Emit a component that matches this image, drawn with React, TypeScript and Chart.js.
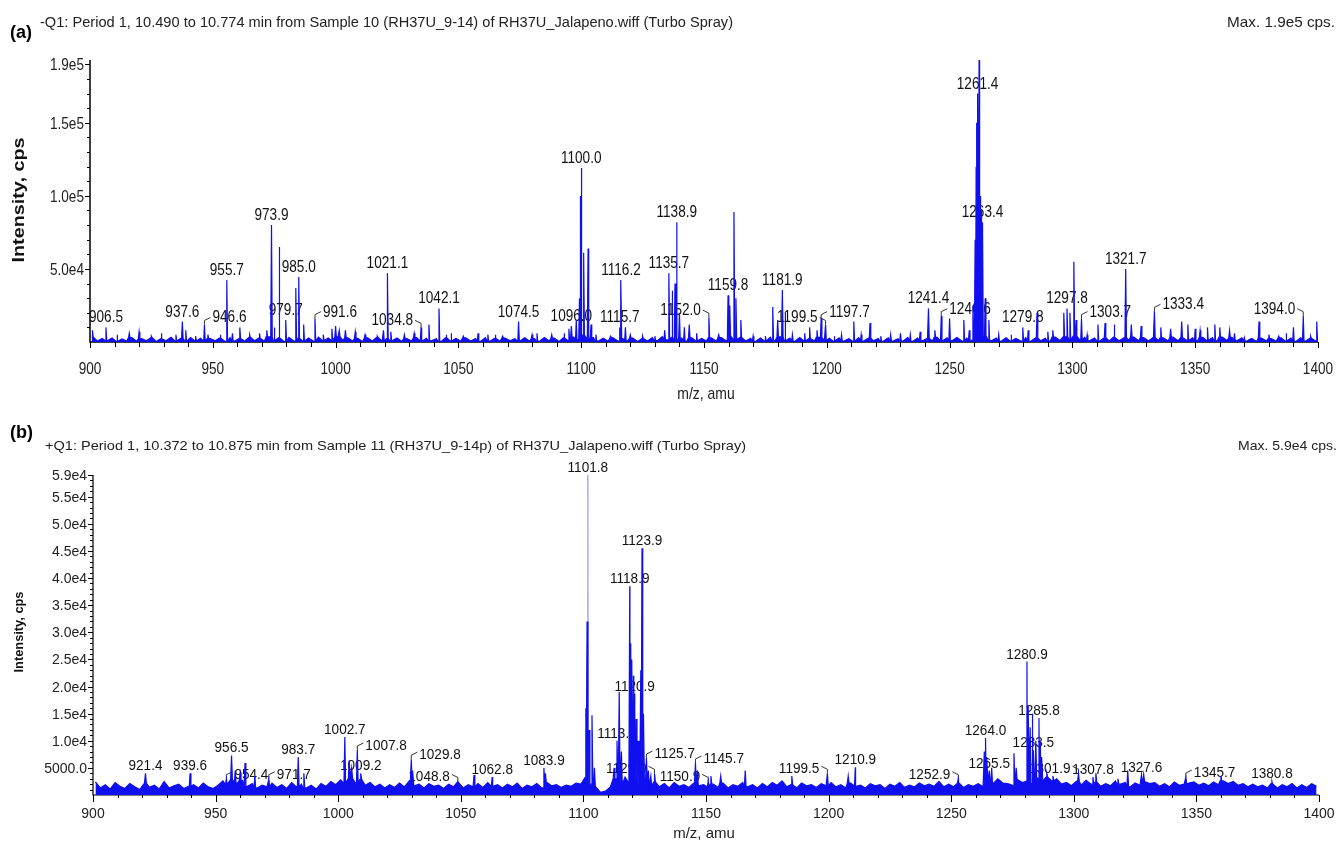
import React, { useEffect, useRef } from 'react';
import { Chart, registerables } from 'chart.js';
Chart.register(...registerables);

const FONT = '"Liberation Sans", Arial, sans-serif';

// ---------------- data ----------------
const xTickValues = [900, 950, 1000, 1050, 1100, 1150, 1200, 1250, 1300, 1350, 1400];
const xTickLabels = ['900', '950', '1000', '1050', '1100', '1150', '1200', '1250', '1300', '1350', '1400'];

const yTickValuesA = [50000, 100000, 150000, 190000];
const yTickLabelsA = ['5.0e4', '1.0e5', '1.5e5', '1.9e5'];
const yTickValuesB = [5000, 10000, 15000, 20000, 25000, 30000, 35000, 40000, 45000, 50000, 55000, 59000];
const yTickLabelsB = ['5000.0', '1.0e4', '1.5e4', '2.0e4', '2.5e4', '3.0e4', '3.5e4', '4.0e4', '4.5e4', '5.0e4', '5.5e4', '5.9e4'];

const titleA = '-Q1: Period 1, 10.490 to 10.774 min from Sample 10 (RH37U_9-14) of RH37U_Jalapeno.wiff (Turbo Spray)';
const titleB = '+Q1: Period 1, 10.372 to 10.875 min from Sample 11 (RH37U_9-14p) of RH37U_Jalapeno.wiff (Turbo Spray)';
const maxA = 'Max. 1.9e5 cps.';
const maxB = 'Max. 5.9e4 cps.';

// baseline noise, sampled every 2 amu from m/z 901
const noiseStart = 901;
const noiseStep = 2;
const noiseA = [
  3400, 600, 2500, 900, 2800, 400, 2100, 700, 3000, 500, 2400, 800, 2900, 300, 2200, 900, 3300, 600, 2500, 400, 3100, 700, 2600, 500, 2300,
  800, 2700, 400, 3000, 700, 2400, 500, 3200, 900, 2600, 600, 3500, 800, 2900, 400, 3100, 700, 2500, 600, 2800, 500, 3300, 900, 2700, 1200,
  3600, 1000, 2900, 600, 2500, 400, 2800, 700, 3100, 500, 2400, 800, 2700, 400, 2300, 600, 3000, 500, 2600, 800, 2200, 400, 2900, 700, 2500,
  500, 2800, 600, 2300, 400, 3000, 700, 2500, 500, 2700, 800, 2200, 400, 2900, 600, 2400, 500, 3100, 700, 2600, 400, 2800, 900, 3300, 1500,
  4800, 1800, 3000, 700, 2600, 500, 2900, 600, 2400, 800, 2700, 400, 2300, 700, 3000, 900, 3600, 1400, 3200, 800, 2600, 500, 2900, 700, 2400,
  600, 2800, 500, 3000, 900, 3800, 1600, 3100, 700, 2500, 400, 2800, 600, 3300, 1000, 3500, 800, 2700, 500, 3000, 700, 2400, 600, 3100, 800,
  2500, 500, 2800, 700, 2300, 400, 3000, 600, 2600, 800, 2400, 500, 2900, 700, 2200, 600, 3100, 500, 2700, 900, 2500, 700, 3200, 600, 2800,
  900, 3100, 700, 2600, 1200, 5200, 2400, 3800, 900, 2700, 500, 2900, 600, 2400, 700, 3100, 500, 2800, 800, 2500, 600, 3300, 1100, 3600, 1400,
  4000, 1500, 3200, 800, 2700, 600, 3000, 700, 3300, 900, 2900, 1100, 3400, 800, 3000, 700, 3200, 900, 2800, 600, 3300, 800, 3100, 1000, 2900,
  900, 3200, 1100, 3000, 800, 3400, 1000, 3100, 900, 2800, 600, 2500, 400, 2700, 700, 2400, 500, 2800, 600, 2600, 400, 2900, 700, 2500, 600,
];
const noiseB = [
  2400, 1300, 1900, 1100, 2300, 1600, 1200, 2100, 1500, 1000, 2200, 1400, 1800, 1100, 2500, 1300, 1700, 2000, 1200, 1600, 1900, 1300, 2200, 1500, 1200,
  1800, 2600, 1900, 2900, 2200, 2700, 1600, 2100, 1300, 1800, 1500, 2200, 1400, 1900, 1200, 2300, 1500, 2000, 1300, 1800, 1100, 2100, 1600, 2500, 1900,
  2800, 2100, 3100, 2200, 2900, 1800, 2300, 1500, 2000, 1300, 1900, 1400, 2200, 1500, 2600, 1700, 2000, 1300, 2100, 1600, 1800, 1200, 2000, 1500, 2300,
  1300, 1900, 1500, 2100, 1400, 2300, 1600, 1900, 1300, 2000, 1500, 2200, 1200, 1800, 1500, 2100, 1300, 2400, 1700, 1900, 1400, 1800, 1600, 2200, 2000,
  3200, 2000, 1600, 500, 700, 1500, 3000, 2000, 3300, 2100, 3000, 1900, 2800, 1600, 2400, 1500, 2100, 1300, 2300, 1600, 1900, 1400, 2200, 1700, 1900,
  1500, 2000, 1400, 2200, 1300, 1900, 1600, 2300, 1500, 1900, 1300, 2100, 1500, 2300, 1800, 2600, 1500, 1900, 1300, 2200, 1700, 1900, 1400, 2100, 1700,
  2300, 1500, 1900, 1300, 2200, 1600, 1800, 1300, 2100, 1700, 1900, 1200, 2000, 1600, 2300, 1400, 1800, 1500, 2200, 1700, 2000, 1600, 2500, 1500, 2000,
  1500, 2200, 1400, 1900, 1600, 2100, 1500, 2600, 2000, 3000, 2200, 2100, 1800, 2900, 2300, 2500, 2100, 3100, 2500, 3300, 2600, 3000, 2000, 2300, 1700,
  2500, 1800, 2700, 2000, 2400, 1600, 2100, 1700, 2600, 2000, 2300, 1500, 2200, 1800, 2500, 2100, 2300, 1600, 2100, 1500, 2400, 1800, 2000, 2200, 2400,
  1800, 2200, 1700, 2400, 1900, 2600, 2100, 2500, 1800, 2100, 1500, 2000, 1500, 1800, 1300, 2100, 1300, 1900, 1500, 2100, 1300, 1900, 1400, 2100, 1600,
];

// unlabeled peaks [m/z, intensity]
const peaksA: [number, number][] = [
  [901, 8000], [911, 5000], [916, 6000], [920, 7000], [925, 4000], [929, 6000], [935, 5000], [939, 8000], [943, 4000], [948, 5000],
  [953, 5000], [958, 6000], [961, 10000], [965, 5000], [969, 6000], [972, 8000], [975, 10000], [977, 65000], [983.8, 37000], [987, 12000],
  [995, 5000], [998.5, 9000], [1000, 11000], [1001.5, 8000], [1004, 8000], [1008, 7000], [1012, 5000], [1017, 4000], [1019.5, 8000], [1022.5, 7000],
  [1028, 5000], [1032, 6000], [1038, 12000], [1045, 5000], [1047, 6000], [1052, 4000], [1058, 6000], [1062, 5000], [1065, 5000], [1068, 4000],
  [1080, 5000], [1082, 6000], [1088, 5000], [1093, 6000], [1095, 9000], [1098, 15000], [1099.3, 30000], [1099.7, 100000], [1100.3, 90000],
  [1101, 61000], [1102.8, 64000], [1104, 12000], [1106, 5000],
  [1112, 4000], [1118, 10000], [1120, 5000], [1125, 4000], [1130, 4000], [1134, 8000], [1137, 35000], [1138.2, 40000], [1140, 20000],
  [1142, 10000], [1144, 12000], [1147, 6000],
  [1156, 5000], [1160.5, 25000], [1162.2, 89000], [1163, 30000], [1165, 15000], [1170, 4000], [1175, 4000], [1178, 24000], [1180, 15000],
  [1183, 20000], [1186, 5000], [1191, 6000], [1193, 10000], [1196, 8000],
  [1203, 4000], [1206, 5000], [1211, 14000], [1214, 5000], [1217.6, 13000], [1222, 4000], [1226, 5000], [1230, 6000], [1234, 5000], [1238, 7000],
  [1244, 8000], [1250, 16000], [1255.8, 15000], [1258, 8000], [1259.5, 25000], [1260.4, 70000], [1260.8, 120000], [1261.1, 150000],
  [1262.0, 193000], [1262.3, 130000], [1262.6, 100000], [1262.9, 90000], [1264.5, 30000], [1266, 15000],
  [1270, 5000], [1275, 5000], [1282, 8000], [1285.6, 20000], [1290, 7000], [1292, 8000], [1296.5, 20000], [1299, 20000], [1300.6, 55000], [1301.5, 15000],
  [1306, 5000], [1310.4, 12000], [1313.3, 13000], [1317, 12000], [1324, 12000], [1328, 11000], [1336, 10000], [1340, 9000], [1344.5, 14000],
  [1347, 12000], [1350, 9000],
  [1352, 8000], [1355, 10000], [1358, 12000], [1360, 10000], [1364, 8000], [1366, 6000], [1370, 3000], [1376, 14000], [1380, 5000],
  [1384, 4000], [1387, 6000], [1390, 10000], [1397, 4000], [1399.5, 14000],
];

// labelled peaks [text, m/z, intensity, leader side]
const labelsA: [string, number, number, string][] = [
  ['906.5', 906.5, 10000, ''], ['937.6', 937.6, 14000, ''], ['946.6', 946.6, 12000, 'R'], ['955.7', 955.7, 42500, ''],
  ['973.9', 973.9, 80000, ''], ['979.7', 979.7, 15000, ''], ['985.0', 985.0, 44500, ''], ['991.6', 991.6, 16000, 'R'],
  ['1021.1', 1021.1, 47000, ''], ['1034.8', 1034.8, 10000, 'L'], ['1042.1', 1042.1, 23000, ''], ['1074.5', 1074.5, 14000, ''],
  ['1096.0', 1096.0, 11000, ''], ['1100.0', 1100.0, 119000, ''], ['1115.7', 1115.7, 10000, ''], ['1116.2', 1116.2, 42500, ''],
  ['1135.7', 1135.7, 47000, ''], ['1138.9', 1138.9, 82000, ''], ['1152.0', 1152.0, 17000, 'L'], ['1159.8', 1159.8, 32000, ''],
  ['1181.9', 1181.9, 35500, ''], ['1199.5', 1199.5, 12000, 'L'], ['1197.7', 1197.7, 16000, 'R'], ['1241.4', 1241.4, 23000, ''],
  ['1246.6', 1246.6, 18000, 'R'], ['1261.4', 1261.4, 170000, ''], ['1263.4', 1263.4, 82000, ''], ['1279.8', 1279.8, 10000, ''],
  ['1297.8', 1297.8, 23000, ''], ['1303.7', 1303.7, 16000, 'R'], ['1321.7', 1321.7, 50000, ''], ['1333.4', 1333.4, 21000, 'R'],
  ['1394.0', 1394.0, 18000, 'L'],
];

const peaksB: [number, number][] = [
  [958, 4500], [960, 4000], [962, 5900], [966, 3500], [986, 4000], [1004.5, 6400], [1005.5, 5000], [1030.5, 4500], [1055.4, 3700], [1084.5, 4000],
  [1101.0, 16000], [1101.5, 32000], [1102.3, 12000], [1103.5, 14700], [1104.5, 5000], [1112.5, 5000], [1114.6, 19000], [1115.5, 8000],
  [1119.3, 28000], [1119.8, 25000], [1120.4, 22000], [1121.5, 14000], [1122.3, 10000], [1123.4, 23000], [1124.5, 15000], [1126.5, 4500], [1127.5, 3500],
  [1146.5, 4500], [1152, 3500], [1156, 3500], [1166, 4500], [1185, 3500], [1208, 3500], [1263.5, 8000], [1264.6, 7000], [1266.5, 5000],
  [1275.6, 7700], [1276.5, 5000], [1281.4, 16500], [1282.2, 12500], [1283, 15000], [1284.5, 10000], [1286.3, 10000], [1287, 7000], [1289, 4000],
  [1291.5, 3500], [1309, 4000], [1318, 3000], [1322, 4500], [1328.5, 3800], [1360, 3500],
];

const labelsB: [string, number, number, string][] = [
  ['921.4', 921.4, 4000, ''], ['939.6', 939.6, 4000, ''], ['956.5', 956.5, 7300, ''], ['954.4', 954.4, 3000, 'R'],
  ['971.7', 971.7, 3000, 'R'], ['983.7', 983.7, 7000, ''], ['1002.7', 1002.7, 10700, ''], ['1007.8', 1007.8, 8300, 'R'],
  ['1009.2', 1009.2, 4000, ''], ['1029.8', 1029.8, 6600, 'R'], ['1048.8', 1048.8, 2500, 'L'], ['1062.8', 1062.8, 3300, ''],
  ['1083.9', 1083.9, 5000, ''], ['1101.8', 1101.8, 59000, ''], ['1113.7', 1113.7, 10000, ''], ['1118.9', 1118.9, 38500, ''],
  ['1120.9', 1120.9, 18700, ''], ['1123.9', 1123.9, 45500, ''], ['1125.7', 1125.7, 6800, 'R'], ['1129.0', 1129.0, 4000, 'L'],
  ['1150.9', 1150.9, 2500, 'L'], ['1145.7', 1145.7, 5900, 'R'], ['1199.5', 1199.5, 4000, 'L'], ['1210.9', 1210.9, 5100, ''],
  ['1252.9', 1252.9, 3000, 'L'], ['1264.0', 1264.0, 10500, ''], ['1265.5', 1265.5, 4500, ''], ['1280.9', 1280.9, 24600, ''],
  ['1283.5', 1283.5, 8300, ''], ['1285.8', 1285.8, 14200, ''], ['1301.9', 1301.9, 4000, 'L'], ['1307.8', 1307.8, 3300, ''],
  ['1327.6', 1327.6, 3700, ''], ['1345.7', 1345.7, 3300, 'R'], ['1380.8', 1380.8, 2500, ''],
];

// the single light-coloured spike at the top of spectrum (b)
const highlightB = [1101.8];

// ---------------- helpers ----------------
type Pt = { x: number; y: number };

function baseAt(noise: number[], mz: number) {
  const i = Math.max(0, Math.min(noise.length - 1, Math.round((mz - noiseStart) / noiseStep)));
  return noise[i];
}

function buildSpectrum(noise: number[], peaks: [number, number][], hw: number): Pt[] {
  const pts: Pt[] = noise.map((v, i) => ({ x: noiseStart + i * noiseStep, y: v }));
  for (const [mz, h] of peaks) {
    const b = baseAt(noise, mz);
    pts.push({ x: mz - hw, y: b }, { x: mz, y: h }, { x: mz + hw, y: b });
  }
  pts.sort((a, b) => a.x - b.x);
  return pts;
}

function textScaled(ctx: CanvasRenderingContext2D, text: string, x: number, y: number, font: string, align: CanvasTextAlign, sx: number, color = '#111') {
  ctx.save();
  ctx.font = font;
  ctx.fillStyle = color;
  ctx.textAlign = align;
  ctx.textBaseline = 'alphabetic';
  ctx.translate(x, y);
  ctx.scale(sx, 1);
  ctx.fillText(text, 0, 0);
  ctx.restore();
}

function fitSx(ctx: CanvasRenderingContext2D, text: string, font: string, width: number) {
  ctx.save();
  ctx.font = font;
  const w = ctx.measureText(text).width;
  ctx.restore();
  return width / w;
}

const BLUE = 'rgb(15,15,240)';

const PANELS = [
  {
    key: 'a', top: 0, height: 405, padTop: 60, padRight: 20, yWidth: 90, xHeight: 63, yMax: 193000,
    noise: noiseA, peaks: peaksA, labels: labelsA, highlight: [] as number[], hw: 0.3,
    yTicks: yTickValuesA, yLabels: yTickLabelsA, yMinor: 10000,
    tickFont: `17px ${FONT}`, tickSx: 0.8, labelFont: `17px ${FONT}`, labelSx: 0.8, labelGap: 5,
    yLabelRight: 84, yLabelDy: 6, xLabelBaseline: 374,
    xMajor: 6, xMinor: 5, yMajor: 5, yMinorLen: 3, axisWidth: 1.5,
    xTitle: { text: 'm/z, amu', x: 706, y: 399, font: `17px ${FONT}`, sx: 0.82 },
    yTitle: { text: 'Intensity, cps', x: 24, y: 200, len: 125, font: `bold 17px ${FONT}` },
    tag: { text: '(a)', x: 10, y: 38, font: `bold 18px ${FONT}` },
    header: { text: titleA, x: 40, y: 27, width: 693, font: `15px ${FONT}` },
    maxT: { text: maxA, x: 1335, y: 27, width: 108, font: `15px ${FONT}` },
    lineWidth: 1.2,
  },
  {
    key: 'b', top: 405, height: 438, padTop: 70, padRight: 19, yWidth: 93, xHeight: 48, yMax: 59000,
    noise: noiseB, peaks: peaksB, labels: labelsB, highlight: highlightB, hw: 0.35,
    yTicks: yTickValuesB, yLabels: yTickLabelsB, yMinor: 1000,
    tickFont: `14px ${FONT}`, tickSx: 1, labelFont: `14px ${FONT}`, labelSx: 0.97, labelGap: 3,
    yLabelRight: 87, yLabelDy: 5, xLabelBaseline: 413,
    xMajor: 7, xMinor: 3, yMajor: 5, yMinorLen: 3, axisWidth: 1.2,
    xTitle: { text: 'm/z, amu', x: 704, y: 433, font: `15px ${FONT}`, sx: 1 },
    yTitle: { text: 'Intensity, cps', x: 23, y: 227, len: 81, font: `bold 13px ${FONT}` },
    tag: { text: '(b)', x: 10, y: 33, font: `bold 18px ${FONT}` },
    header: { text: titleB, x: 45, y: 45, width: 701, font: `13px ${FONT}` },
    maxT: { text: maxB, x: 1337, y: 45, width: 99, font: `13px ${FONT}` },
    lineWidth: 1.2,
  },
];

type PanelCfg = typeof PANELS[number];

function decorPlugin(p: PanelCfg) {
  return {
    id: 'decor' + p.key,
    beforeDatasetsDraw(chart: any) {
      const ctx: CanvasRenderingContext2D = chart.ctx;
      const xs = chart.scales.x;
      const ys = chart.scales.y;
      const ca = chart.chartArea;
      ctx.save();
      // axis lines
      ctx.strokeStyle = '#000';
      ctx.lineWidth = p.axisWidth;
      ctx.beginPath();
      ctx.moveTo(ca.left, ca.top);
      ctx.lineTo(ca.left, ca.bottom);
      ctx.lineTo(ca.right, ca.bottom);
      ctx.stroke();
      // x ticks
      ctx.lineWidth = 1;
      for (let v = xs.min; v <= xs.max + 1e-6; v += 10) {
        const px = Math.round(xs.getPixelForValue(v)) + 0.5;
        const major = Math.round(v) % 50 === 0;
        ctx.beginPath();
        ctx.moveTo(px, ca.bottom);
        ctx.lineTo(px, ca.bottom + (major ? p.xMajor : p.xMinor));
        ctx.stroke();
      }
      xTickValues.forEach((v, i) => {
        textScaled(ctx, xTickLabels[i], xs.getPixelForValue(v), p.xLabelBaseline, p.tickFont, 'center', p.tickSx, '#222');
      });
      // y ticks
      for (let v = p.yMinor; v <= p.yMax + 1e-6; v += p.yMinor) {
        const py = Math.round(ys.getPixelForValue(v)) + 0.5;
        ctx.beginPath();
        ctx.moveTo(ca.left, py);
        ctx.lineTo(ca.left - p.yMinorLen, py);
        ctx.stroke();
      }
      p.yTicks.forEach((v, i) => {
        const py = ys.getPixelForValue(v);
        ctx.beginPath();
        ctx.moveTo(ca.left, Math.round(py) + 0.5);
        ctx.lineTo(ca.left - p.yMajor, Math.round(py) + 0.5);
        ctx.stroke();
        textScaled(ctx, p.yLabels[i], p.yLabelRight, py + p.yLabelDy, p.tickFont, 'right', p.tickSx, '#222');
      });
      // axis titles
      textScaled(ctx, p.xTitle.text, p.xTitle.x, p.xTitle.y, p.xTitle.font, 'center', p.xTitle.sx, '#222');
      {
        const t = p.yTitle;
        const sx = fitSx(ctx, t.text, t.font, t.len);
        ctx.save();
        ctx.translate(t.x, t.y);
        ctx.rotate(-Math.PI / 2);
        ctx.scale(sx, 1);
        ctx.font = t.font;
        ctx.fillStyle = '#111';
        ctx.textAlign = 'center';
        ctx.textBaseline = 'alphabetic';
        ctx.fillText(t.text, 0, 0);
        ctx.restore();
      }
      // headers
      textScaled(ctx, p.tag.text, p.tag.x, p.tag.y, p.tag.font, 'left', 1, '#000');
      textScaled(ctx, p.header.text, p.header.x, p.header.y, p.header.font, 'left', fitSx(ctx, p.header.text, p.header.font, p.header.width), '#222');
      textScaled(ctx, p.maxT.text, p.maxT.x, p.maxT.y, p.maxT.font, 'right', fitSx(ctx, p.maxT.text, p.maxT.font, p.maxT.width), '#222');
      // peak labels
      ctx.strokeStyle = '#333';
      ctx.lineWidth = 1;
      for (const [t, mz, h, side] of p.labels) {
        const px = xs.getPixelForValue(mz);
        const py = ys.getPixelForValue(h);
        if (side === 'R' || side === 'L') {
          const d = side === 'R' ? 1 : -1;
          ctx.beginPath();
          ctx.moveTo(px, py);
          ctx.lineTo(px, py - 4);
          ctx.lineTo(px + d * 6, py - 7);
          ctx.stroke();
          textScaled(ctx, t, px + d * 8, py - p.labelGap + 3, p.labelFont, side === 'R' ? 'left' : 'right', p.labelSx, '#111');
        } else {
          textScaled(ctx, t, px, py - p.labelGap, p.labelFont, 'center', p.labelSx, '#111');
        }
      }
      ctx.restore();
    },
  };
}

function Panel({ p }: { p: PanelCfg }) {
  const ref = useRef<HTMLCanvasElement | null>(null);
  useEffect(() => {
    if (!ref.current) return;
    const labelPeaks: [number, number][] = p.labels
      .filter((l) => !p.highlight.includes(l[1]))
      .map((l) => [l[1], l[2]] as [number, number]);
    const main = buildSpectrum(p.noise, p.peaks.concat(labelPeaks), p.hw);
    const datasets: any[] = [
      {
        data: main, borderColor: BLUE, backgroundColor: BLUE, borderWidth: p.lineWidth,
        pointRadius: 0, tension: 0, fill: 'origin', order: 0,
      },
    ];
    if (p.highlight.length) {
      const hl: Pt[] = [];
      p.labels
        .filter((l) => p.highlight.includes(l[1]))
        .forEach((l) => {
          const b = baseAt(p.noise, l[1]);
          hl.push({ x: l[1] - 0.25, y: b }, { x: l[1], y: l[2] }, { x: l[1] + 0.25, y: b });
        });
      datasets.push({ data: hl, borderColor: 'rgb(165,165,255)', borderWidth: 1, pointRadius: 0, tension: 0, fill: false, order: 1 });
    }
    const chart = new Chart(ref.current, {
      type: 'line',
      data: { datasets },
      options: {
        responsive: false,
        animation: false,
        events: [],
        parsing: false,
        layout: { padding: { top: p.padTop, right: p.padRight, left: 0, bottom: 0 } },
        plugins: { legend: { display: false }, tooltip: { enabled: false }, title: { display: false } },
        scales: {
          x: {
            type: 'linear', min: 900, max: 1400,
            grid: { display: false, drawTicks: false },
            border: { display: false },
            ticks: { display: false },
            afterFit: (s: any) => { s.height = p.xHeight; },
          },
          y: {
            type: 'linear', min: 0, max: p.yMax,
            grid: { display: false, drawTicks: false },
            border: { display: false },
            ticks: { display: false },
            afterFit: (s: any) => { s.width = p.yWidth; },
          },
        },
      } as any,
      plugins: [decorPlugin(p)],
    });
    return () => chart.destroy();
  }, [p]);
  return (
    <canvas
      ref={ref}
      width={1338}
      height={p.height}
      style={{ position: 'absolute', left: 0, top: p.top, width: 1338, height: p.height, display: 'block' }}
    />
  );
}

export default function App() {
  return (
    <div style={{ position: 'absolute', left: 0, top: 0, width: 1338, height: 843, background: '#fff' }}>
      {PANELS.map((p) => (
        <Panel key={p.key} p={p} />
      ))}
    </div>
  );
}
